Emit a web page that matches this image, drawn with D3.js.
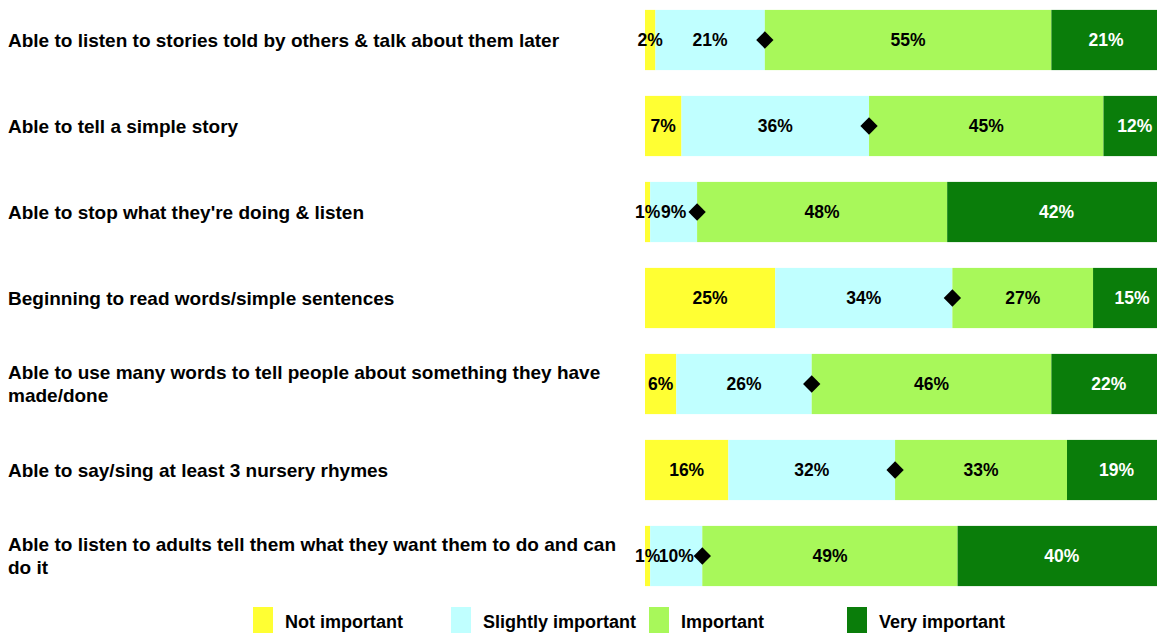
<!DOCTYPE html>
<html>
<head>
<meta charset="utf-8">
<script src="https://cdn.jsdelivr.net/npm/d3@7"></script>
<style>
  body { margin: 0; background: #fff; }
  text { font-family: "Liberation Sans", Arial, sans-serif; font-weight: bold; }
</style>
</head>
<body>
<div id="chart"></div>
<script>
const categories = [
    "Able to listen to stories told by others & talk about them later",
    "Able to tell a simple story",
    "Able to stop what they're doing & listen",
    "Beginning to read words/simple sentences",
    "Able to use many words to tell people about something they have made/done",
    "Able to say/sing at least 3 nursery rhymes",
    "Able to listen to adults tell them what they want them to do and can do it"
];
const seriesNames = ["Not important", "Slightly important", "Important", "Very important"];
const notImportant      = [2, 7, 1, 25, 6, 16, 1];
const slightlyImportant = [21, 36, 9, 34, 26, 32, 10];
const important         = [55, 45, 48, 27, 46, 33, 49];
const veryImportant     = [21, 12, 42, 15, 22, 19, 40];
const colors = ["#ffff33", "#c0ffff", "#a8f85a", "#0a7d0a"];

const width = 1157, height = 633;

const svg = d3.select("#chart")
    .append("svg")
    .attr("width", width)
    .attr("height", height);

const rows = categories.map((c, i) => ({
    cat: c,
    [seriesNames[0]]: notImportant[i],
    [seriesNames[1]]: slightlyImportant[i],
    [seriesNames[2]]: important[i],
    [seriesNames[3]]: veryImportant[i]
}));

const stack = d3.stack().keys(seriesNames)(rows);

const x = d3.scaleLinear()
    .domain([0, 100])
    .range([645, 1166]);

const y = d3.scaleBand()
    .domain(categories)
    .range([-3, 599])
    .paddingInner(0.3)
    .paddingOuter(0.15);

// bars
const layers = svg.selectAll(".layer")
    .data(stack)
    .join("g")
    .attr("class", "layer")
    .attr("fill", (d, i) => colors[i]);

layers.selectAll("rect")
    .data(d => d)
    .join("rect")
    .attr("x", d => x(d[0]))
    .attr("y", d => y(d.data.cat))
    .attr("width", d => x(d[1]) - x(d[0]))
    .attr("height", y.bandwidth());

// value labels
stack.forEach((layer, li) => {
    svg.append("g")
        .selectAll("text")
        .data(layer)
        .join("text")
        .attr("x", d => (x(d[0]) + x(d[1])) / 2)
        .attr("y", d => y(d.data.cat) + y.bandwidth() / 2)
        .attr("dy", "0.35em")
        .attr("text-anchor", "middle")
        .attr("font-size", "17.5px")
        .attr("fill", li === 3 ? "#fff" : "#000")
        .text(d => (d[1] - d[0]) + "%");
});

// diamond markers at the Not + Slightly important boundary
svg.append("g")
    .selectAll("path")
    .data(stack[1])
    .join("path")
    .attr("d", d3.symbol().type(d3.symbolSquare).size(150))
    .attr("transform", d => `translate(${x(d[1])},${y(d.data.cat) + y.bandwidth() / 2}) rotate(45)`)
    .attr("fill", "#000");

// category labels with wrapping
const maxLabelWidth = 625;
const labels = svg.append("g")
    .selectAll("text")
    .data(categories)
    .join("text")
    .attr("x", 8)
    .attr("font-size", "19px")
    .attr("fill", "#000");

labels.each(function(d) {
    const t = d3.select(this);
    const words = d.split(" ");
    const lines = [];
    let line = [];
    const probe = t.append("tspan");
    words.forEach(w => {
        line.push(w);
        probe.text(line.join(" "));
        if (probe.node().getComputedTextLength() > maxLabelWidth && line.length > 1) {
            line.pop();
            lines.push(line.join(" "));
            line = [w];
        }
    });
    lines.push(line.join(" "));
    probe.remove();
    const lh = 23;
    const cy = y(d) + y.bandwidth() / 2;
    lines.forEach((l, i) => {
        t.append("tspan")
            .attr("x", 8)
            .attr("y", cy + (i - (lines.length - 1) / 2) * lh)
            .attr("dy", "0.35em")
            .text(l);
    });
});

// legend
const legend = svg.append("g")
    .selectAll("g")
    .data(seriesNames)
    .join("g")
    .attr("transform", (d, i) => `translate(${253 + i * 198},607)`);

legend.append("rect")
    .attr("width", 20)
    .attr("height", 26)
    .attr("fill", (d, i) => colors[i]);

legend.append("text")
    .attr("x", 32)
    .attr("y", 21)
    .attr("font-size", "18px")
    .attr("fill", "#000")
    .text(d => d);
</script>
</body>
</html>
